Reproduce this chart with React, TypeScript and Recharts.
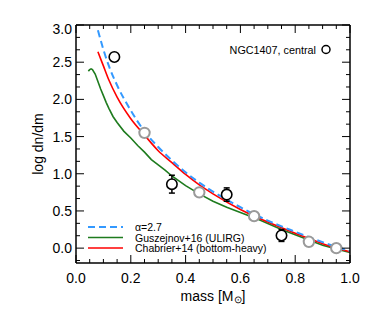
import React from 'react';
import { ComposedChart, Line, Scatter, XAxis, YAxis, ErrorBar } from 'recharts';

// ---- data ----
const alphaMass = [0.08, 0.1, 0.12, 0.15, 0.2, 0.25, 0.3, 0.35, 0.4, 0.45, 0.5, 0.6, 0.7, 0.8, 0.9, 1.0];
const alphaLog = [2.93, 2.67, 2.45, 2.19, 1.85, 1.57, 1.36, 1.18, 1.02, 0.88, 0.76, 0.55, 0.37, 0.22, 0.08, -0.04];

const chabMass = [0.08, 0.1, 0.12, 0.15, 0.2, 0.25, 0.3, 0.35, 0.4, 0.45, 0.5, 0.6, 0.7, 0.8, 0.9, 1.0];
const chabLog = [2.64, 2.45, 2.26, 2.03, 1.74, 1.52, 1.31, 1.15, 0.99, 0.85, 0.73, 0.52, 0.35, 0.2, 0.06, -0.05];

const guszMass = [0.045, 0.05, 0.055, 0.06, 0.07, 0.08, 0.09, 0.1, 0.11, 0.12, 0.135, 0.15, 0.175, 0.2, 0.225, 0.25, 0.275, 0.3, 0.325, 0.35, 0.4, 0.45, 0.5, 0.55, 0.6, 0.65, 0.7, 0.75, 0.8, 0.85, 0.9, 0.95, 1.0];
const guszLog = [2.38, 2.4, 2.41, 2.4, 2.34, 2.24, 2.14, 2.05, 1.96, 1.88, 1.77, 1.69, 1.57, 1.48, 1.38, 1.29, 1.19, 1.12, 1.05, 0.97, 0.84, 0.73, 0.63, 0.55, 0.48, 0.41, 0.33, 0.25, 0.18, 0.11, 0.04, -0.01, -0.06];

const centralMass = [0.14, 0.35, 0.55, 0.75];
const centralLog = [2.57, 0.86, 0.72, 0.17];
const centralErr = [0.03, 0.12, 0.09, 0.08];

const modelMass = [0.25, 0.45, 0.65, 0.85, 0.95];
const modelLog = [1.55, 0.75, 0.43, 0.085, 0.0];
const modelErr = [0.07, 0.07, 0.04, 0.03, 0.02];

const xMajor = [0, 0.2, 0.4, 0.6, 0.8, 1.0];
const xTicks = [0, 0.05, 0.1, 0.15, 0.2, 0.25, 0.3, 0.35, 0.4, 0.45, 0.5, 0.55, 0.6, 0.65, 0.7, 0.75, 0.8, 0.85, 0.9, 0.95, 1.0];
const yMajor = [0, 0.5, 1.0, 1.5, 2.0, 2.5, 3.0];
const yTicks = [-0.1667, 0, 0.1667, 0.3333, 0.5, 0.6667, 0.8333, 1.0, 1.1667, 1.3333, 1.5, 1.6667, 1.8333, 2.0, 2.1667, 2.3333, 2.5, 2.6667, 2.8333, 3.0];

const zip = (ms: number[], vs: number[], es?: number[]) =>
  ms.map((m, i) => ({ m, v: vs[i], e: es ? es[i] : 0 }));

const alphaData = zip(alphaMass, alphaLog);
const chabData = zip(chabMass, chabLog);
const guszData = zip(guszMass, guszLog);
const centralData = zip(centralMass, centralLog, centralErr);
const modelData = zip(modelMass, modelLog, modelErr);

const FONT = '"Liberation Sans", Arial, Helvetica, sans-serif';
const isMajor = (arr: number[], v: number) => arr.some((a) => Math.abs(a - v) < 1e-6);

const BottomTick = (p: any) => {
  const { x, y, payload } = p;
  const v = payload.value;
  const major = isMajor(xMajor, v);
  return (
    <g>
      <line x1={x} x2={x} y1={y} y2={y - (major ? 8 : 4)} stroke="#000" strokeWidth={1} />
      {major && (
        <text x={x} y={y + 15} textAnchor="middle" dominantBaseline="central" fontSize={14} fontFamily={FONT} fill="#000">
          {v.toFixed(1)}
        </text>
      )}
    </g>
  );
};

const TopTick = (p: any) => {
  const { x, y, payload } = p;
  const major = isMajor(xMajor, payload.value);
  return <line x1={x} x2={x} y1={y} y2={y + (major ? 8 : 4)} stroke="#000" strokeWidth={1} />;
};

const LeftTick = (p: any) => {
  const { x, y, payload } = p;
  const v = payload.value;
  const major = isMajor(yMajor, v);
  return (
    <g>
      <line x1={x} x2={x + (major ? 8 : 4)} y1={y} y2={y} stroke="#000" strokeWidth={1} />
      {major && (
        <text x={x - 4} y={y + (v >= 2.99 ? 4 : 0)} textAnchor="end" dominantBaseline="central" fontSize={14} fontFamily={FONT} fill="#000">
          {v.toFixed(1)}
        </text>
      )}
    </g>
  );
};

const RightTick = (p: any) => {
  const { x, y, payload } = p;
  const major = isMajor(yMajor, payload.value);
  return <line x1={x} x2={x - (major ? 8 : 4)} y1={y} y2={y} stroke="#000" strokeWidth={1} />;
};

const Circle = (color: string, sw: number) => (p: any) => {
  const { cx, cy } = p;
  if (cx == null || cy == null) return <g />;
  return <circle cx={cx} cy={cy} r={5.2} fill="#fff" stroke={color} strokeWidth={sw} />;
};

const W = 374;
const H = 312;
const axisLine = { stroke: '#000', strokeWidth: 1.5 };

export default function App() {
  return (
    <div style={{ position: 'absolute', left: 0, top: 0, width: W, height: H, background: '#fff' }}>
      <ComposedChart width={W} height={H} margin={{ top: 0, right: 0, bottom: 0, left: 0 }}>
        <XAxis
          dataKey="m"
          type="number"
          domain={[0, 1]}
          ticks={xTicks}
          interval={0}
          height={49}
          tickSize={0}
          tickMargin={0}
          tickLine={false}
          tick={BottomTick}
          axisLine={axisLine}
          allowDataOverflow
        />
        <XAxis
          xAxisId="top"
          dataKey="m"
          orientation="top"
          type="number"
          domain={[0, 1]}
          ticks={xTicks}
          interval={0}
          height={25}
          tickSize={0}
          tickMargin={0}
          tickLine={false}
          tick={TopTick}
          axisLine={axisLine}
          allowDataOverflow
        />
        <YAxis
          type="number"
          domain={[-0.2, 3.0]}
          ticks={yTicks}
          interval={0}
          width={76}
          tickSize={0}
          tickMargin={0}
          tickLine={false}
          tick={LeftTick}
          axisLine={axisLine}
          allowDataOverflow
        />
        <YAxis
          yAxisId="right"
          orientation="right"
          type="number"
          domain={[-0.2, 3.0]}
          ticks={yTicks}
          interval={0}
          width={24}
          tickSize={0}
          tickMargin={0}
          tickLine={false}
          tick={RightTick}
          axisLine={axisLine}
          allowDataOverflow
        />
        <Line data={guszData} dataKey="v" type="linear" stroke="#1e7b1e" strokeWidth={1.6} dot={false} isAnimationActive={false} />
        <Line data={chabData} dataKey="v" type="monotone" stroke="#ff0000" strokeWidth={1.6} dot={false} isAnimationActive={false} />
        <Line data={alphaData} dataKey="v" type="monotone" stroke="#3399ff" strokeWidth={2} strokeDasharray="7 4" dot={false} isAnimationActive={false} />
        <Scatter data={modelData} dataKey="v" shape={Circle('#9a9a9a', 2)} isAnimationActive={false}>
          <ErrorBar dataKey="e" direction="y" width={0} stroke="#9a9a9a" strokeWidth={1.5} />
        </Scatter>
        <Scatter data={centralData} dataKey="v" shape={Circle('#000', 1.6)} isAnimationActive={false}>
          <ErrorBar dataKey="e" direction="y" width={3} stroke="#000" strokeWidth={1.5} />
        </Scatter>
      </ComposedChart>
      <svg width={W} height={H} style={{ position: 'absolute', left: 0, top: 0, pointerEvents: 'none' }}>
        <text x={213} y={296} textAnchor="middle" dominantBaseline="central" fontSize={14} fontFamily={FONT} fill="#000">
          mass [M<tspan fontSize={10} dy={3}>⊙</tspan><tspan dy={-3}>]</tspan>
        </text>
        <text
          x={38}
          y={144}
          transform="rotate(-90 38 144)"
          textAnchor="middle"
          dominantBaseline="central"
          fontSize={14}
          fontFamily={FONT}
          fill="#000"
        >
          log dn/dm
        </text>
        <text x={316} y={49.5} textAnchor="end" dominantBaseline="central" fontSize={10.8} fontFamily={FONT} fill="#000">
          NGC1407, central
        </text>
        <circle cx={326} cy={49.5} r={4} fill="none" stroke="#000" strokeWidth={1.5} />
        <line x1={88} x2={123} y1={227} y2={227} stroke="#3399ff" strokeWidth={2} strokeDasharray="7 4" />
        <line x1={88} x2={123} y1={237.5} y2={237.5} stroke="#1e7b1e" strokeWidth={1.6} />
        <line x1={88} x2={123} y1={248} y2={248} stroke="#ff0000" strokeWidth={1.6} />
        <text x={135} y={227} dominantBaseline="central" fontSize={10.5} fontFamily={FONT} fill="#000">α=2.7</text>
        <text x={135} y={237.5} dominantBaseline="central" fontSize={10.5} fontFamily={FONT} fill="#000">Guszejnov+16 (ULIRG)</text>
        <text x={135} y={248} dominantBaseline="central" fontSize={10.5} fontFamily={FONT} fill="#000">Chabrier+14 (bottom-heavy)</text>
      </svg>
    </div>
  );
}
